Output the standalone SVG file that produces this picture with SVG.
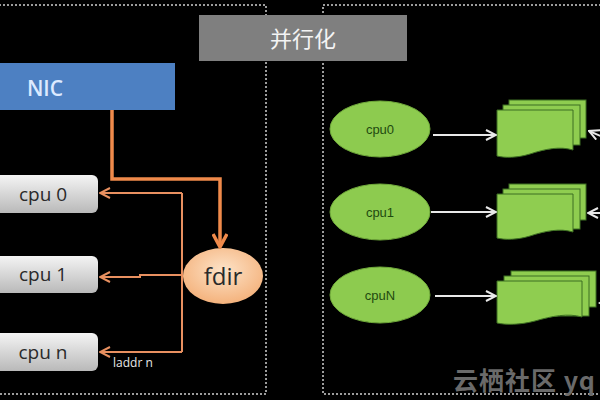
<svg xmlns="http://www.w3.org/2000/svg" width="600" height="400" viewBox="0 0 600 400">
<defs>
<style>
.frame{fill:none;stroke:#d0d0d0;stroke-width:1.5;stroke-dasharray:2 2}
.cpu{stroke:none}
.cput{font-family:"Open Sans","Liberation Sans",sans-serif;font-size:19px;fill:#2a2a2a;text-anchor:middle}
.gell{fill:#8dcb4f;stroke:#6fa83a;stroke-width:1}
.gt{font-family:"Liberation Sans",Arial,sans-serif;font-size:13px;fill:#1f4a10;text-anchor:middle}
.doc{fill:#8fcd50;stroke:#3d6e22;stroke-width:1}
.thick{fill:none;stroke:#f08a4b;stroke-width:3.5}
.thin{fill:none;stroke:#e89060;stroke-width:2}
.wh{fill:none;stroke:#e8e8e8;stroke-width:2}
</style>
<linearGradient id="gCpu" x1="0" y1="0" x2="0" y2="1">
<stop offset="0" stop-color="#f4f4f4"/>
<stop offset="1" stop-color="#b9b9b9"/>
</linearGradient>
<radialGradient id="gFdir" cx="0.5" cy="0.4" r="0.6">
<stop offset="0" stop-color="#fde3c8"/>
<stop offset="1" stop-color="#f4b27c"/>
</radialGradient>
<marker id="aOr" viewBox="0 0 12 12" refX="11" refY="6" markerWidth="12" markerHeight="12" markerUnits="userSpaceOnUse" orient="auto">
<path d="M1 1 L11 6 L1 11" fill="none" stroke="#e89060" stroke-width="2"/>
</marker>
<marker id="aOrBig" viewBox="0 0 16 16" refX="14" refY="8" markerWidth="16" markerHeight="16" markerUnits="userSpaceOnUse" orient="auto">
<path d="M1 1 L14 8 L1 15" fill="none" stroke="#f08a4b" stroke-width="3.5"/>
</marker>
<marker id="aWh" viewBox="0 0 12 12" refX="11" refY="6" markerWidth="12" markerHeight="12" markerUnits="userSpaceOnUse" orient="auto">
<path d="M1 1 L11 6 L1 11" fill="none" stroke="#e8e8e8" stroke-width="2"/>
</marker>
</defs>
<rect x="0" y="0" width="600" height="400" fill="#000"/>

<g id="frames">
<path class="frame" d="M-5 5 H266 V394 H-5"/>
<path class="frame" d="M605 5 H323 V394 H605"/>
</g>

<g id="title">
<rect x="199" y="15" width="208" height="46" fill="#7f7f7f"/>
<text x="303" y="47" font-family="Noto Sans CJK SC, sans-serif" font-size="22" fill="#f4f4f4" text-anchor="middle">并行化</text>
</g>

<g id="nic">
<rect x="-5" y="63" width="180" height="47" fill="#4d80c2"/>
<text x="45" y="96" font-family="Open Sans, Liberation Sans, sans-serif" font-size="21" font-weight="600" fill="#dceaff" text-anchor="middle">NIC</text>
</g>

<g id="cpu0">
<rect class="cpu" x="-10" y="175" width="108" height="38" rx="6" fill="url(#gCpu)"/>
<text class="cput" x="43" y="201">cpu 0</text>
</g>
<g id="cpu1">
<rect class="cpu" x="-10" y="256" width="108" height="37" rx="6" fill="url(#gCpu)"/>
<text class="cput" x="43" y="281">cpu 1</text>
</g>
<g id="cpun">
<rect class="cpu" x="-10" y="333" width="108" height="38" rx="6" fill="url(#gCpu)"/>
<text class="cput" x="43" y="359">cpu n</text>
</g>

<g id="fdir">
<ellipse cx="223" cy="276" rx="40" ry="28" fill="url(#gFdir)"/>
<text x="223" y="285" font-family="Open Sans, Liberation Sans, sans-serif" font-size="24" fill="#2a2a2a" text-anchor="middle">fdir</text>
</g>

<g id="rcpu0">
<ellipse class="gell" cx="380" cy="129" rx="50" ry="28"/>
<text class="gt" x="380" y="134">cpu0</text>
</g>
<g id="rcpu1">
<ellipse class="gell" cx="380" cy="212" rx="50" ry="28"/>
<text class="gt" x="380" y="217">cpu1</text>
</g>
<g id="rcpuN">
<ellipse class="gell" cx="380" cy="295" rx="50" ry="28"/>
<text class="gt" x="380" y="300">cpuN</text>
</g>

<g id="queue0">
<rect class="doc" x="509" y="100" width="77" height="38"/>
<rect class="doc" x="503" y="105" width="77" height="40"/>
<path class="doc" d="M497 110 H573 V150 C560 146 545 149 530 154 C517 158 505 158 497 156 Z"/>
</g>
<g id="queue1">
<rect class="doc" x="509" y="184" width="77" height="36"/>
<rect class="doc" x="503" y="189" width="77" height="40"/>
<path class="doc" d="M497 194 H573 V232 C560 228 545 231 530 236 C517 240 505 240 497 238 Z"/>
</g>
<g id="queueN">
<rect class="doc" x="511" y="271" width="85" height="36"/>
<rect class="doc" x="504" y="276" width="85" height="40"/>
<path class="doc" d="M497 281 H582 V317 C568 313 552 316 535 321 C520 325 506 325 497 323 Z"/>
</g>

<g id="connectors">
<path class="thick" d="M112 110 V179 H220 V247" marker-end="url(#aOrBig)"/>
<path class="thin" d="M182 193 V352"/>
<path class="thin" d="M182 193 H100" marker-end="url(#aOr)"/>
<path class="thin" d="M183 275 H140 V277 H100" marker-end="url(#aOr)"/>
<path class="thin" d="M182 352 H100" marker-end="url(#aOr)"/>
<path class="wh" d="M433 135 H496" marker-end="url(#aWh)"/>
<path class="wh" d="M431 212 H496" marker-end="url(#aWh)"/>
<path class="wh" d="M435 296 H496" marker-end="url(#aWh)"/>
<path class="wh" d="M610 140 L589 131" marker-end="url(#aWh)"/>
<path class="wh" d="M610 213 H588" marker-end="url(#aWh)"/>
<path d="M598 303 L606 298 V308 Z" fill="#e8e8e8"/>
</g>

<text x="113" y="367" font-family="Open Sans, Liberation Sans, sans-serif" font-size="12" fill="#e8e8e8">laddr n</text>

<text x="453" y="390" font-family="Noto Sans CJK SC, sans-serif" font-size="25" font-weight="bold" fill="#6a6a6a" letter-spacing="1">云栖社区 yq</text>
</svg>
